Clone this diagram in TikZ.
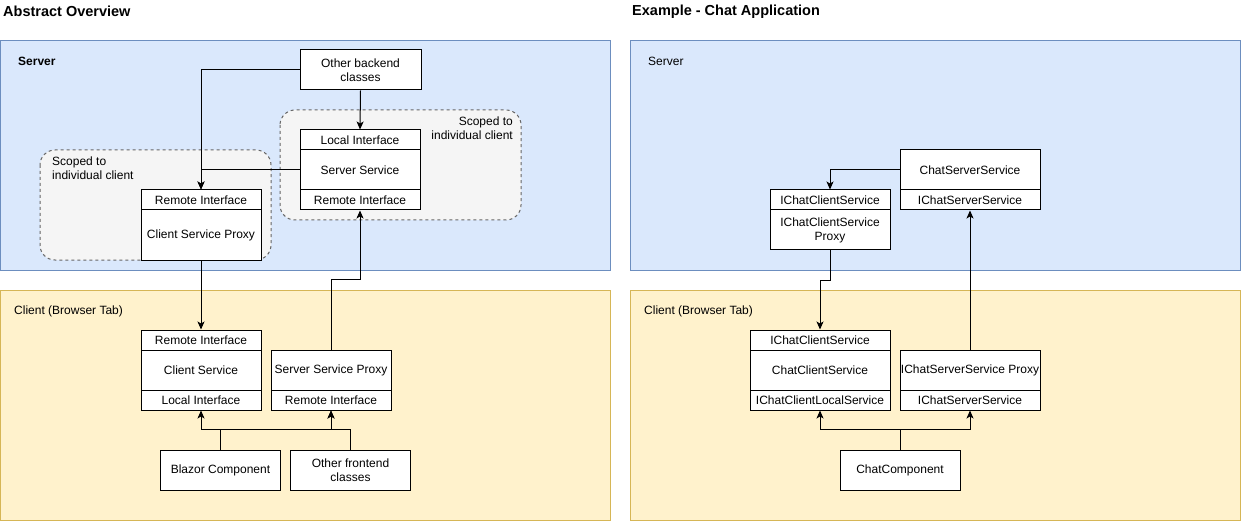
\documentclass[tikz,border=0pt]{standalone}
\usepackage{fontspec}
\setmainfont{Liberation Sans}
\usetikzlibrary{arrows.meta}
\definecolor{blueF}{HTML}{DAE8FC}
\definecolor{blueS}{HTML}{6C8EBF}
\definecolor{yelF}{HTML}{FFF2CC}
\definecolor{yelS}{HTML}{D6B656}
\definecolor{grpF}{HTML}{F5F5F5}
\definecolor{grpS}{HTML}{666666}
\tikzset{
  cell/.style={draw=black, fill=white, line width=1pt, inner sep=0pt, align=center,
    font=\fontsize{12}{14}\selectfont},
  lbl/.style={inner sep=0pt, anchor=west, font=\fontsize{12}{14}\selectfont},
  ttl/.style={inner sep=0pt, anchor=west, font=\fontsize{14.5}{16}\selectfont\bfseries},
  srv/.style={draw=blueS, fill=blueF, line width=1pt},
  cli/.style={draw=yelS, fill=yelF, line width=1pt},
  grp/.style={draw=grpS, fill=grpF, line width=1pt, dashed, dash pattern=on 3pt off 3pt, rounded corners=15pt},
  arr/.style={draw=black, line width=1pt, -{Stealth[length=8pt,width=7pt,inset=2pt]}},
}
\begin{document}
\begin{tikzpicture}[x=1pt,y=-1pt]
\useasboundingbox (0,0) rectangle (1241,521);
% titles
\node[ttl] (t1) at (3,11.5) {Abstract Overview};
\node[ttl] (t2) at (632,11.5) {Example - Chat Application};
% regions
\draw[srv] (0.5,40.5) rectangle (610,270);
\draw[cli] (0.5,290.5) rectangle (610,520);
\draw[srv] (630.5,40.5) rectangle (1240,270);
\draw[cli] (630.5,290.5) rectangle (1240,520);
\node[lbl, font=\fontsize{12}{14}\selectfont\bfseries] (sl1) at (18,61.5) {Server};
\node[lbl] (cl1) at (14,311.5) {Client (Browser Tab)};
\node[lbl] (sl2) at (648,61.5) {Server};
\node[lbl] (cl2) at (644,311.5) {Client (Browser Tab)};
% scoped groups
\draw[grp] (40,150) rectangle (271,260);
\draw[grp] (280,110) rectangle (521,220);
\node[lbl, align=left, anchor=north west] (g1) at (52,157) {Scoped to\\individual client};
\node[lbl, align=right, anchor=north east] (g2) at (513,117) {Scoped to\\individual client};
% ---- left: server
\node[cell, minimum width=121, minimum height=40] (obc) at (360.5,70) {Other backend\\classes};
\node[cell, minimum width=120, minimum height=20] (li) at (360,140) {Local Interface};
\node[cell, minimum width=120, minimum height=40] (ss) at (360,170) {Server Service};
\node[cell, minimum width=120, minimum height=20] (sri) at (360,200) {Remote Interface};
\node[cell, minimum width=120, minimum height=20] (rip) at (201,200) {Remote Interface};
\node[cell, minimum width=120, minimum height=50] (csp) at (201,235) {Client Service Proxy};
% ---- left: client
\node[cell, minimum width=120, minimum height=20] (cri) at (201,340) {Remote Interface};
\node[cell, minimum width=120, minimum height=40] (cs) at (201,370) {Client Service};
\node[cell, minimum width=120, minimum height=20] (cli) at (201,400) {Local Interface};
\node[cell, minimum width=120, minimum height=40] (ssp) at (331,370) {Server Service Proxy};
\node[cell, minimum width=120, minimum height=20] (pri) at (331,400) {Remote Interface};
\node[cell, minimum width=120, minimum height=40] (bc) at (220.5,470) {Blazor Component};
\node[cell, minimum width=120, minimum height=40] (ofc) at (350.5,470) {Other frontend\\classes};
% ---- right: server
\node[cell, minimum width=140, minimum height=40] (css) at (970,170) {ChatServerService};
\node[cell, minimum width=140, minimum height=20] (icss) at (970,200) {IChatServerService};
\node[cell, minimum width=120, minimum height=20] (icsa) at (830,200) {IChatClientService};
\node[cell, minimum width=120, minimum height=40] (icsp) at (830,230) {IChatClientService\\Proxy};
% ---- right: client
\node[cell, minimum width=140, minimum height=20] (icsb) at (820,340) {IChatClientService};
\node[cell, minimum width=140, minimum height=40] (ccs) at (820,370) {ChatClientService};
\node[cell, minimum width=140, minimum height=20] (iccl) at (820,400) {IChatClientLocalService};
\node[cell, minimum width=140, minimum height=40] (issp) at (970,370) {IChatServerService Proxy};
\node[cell, minimum width=140, minimum height=20] (iss) at (970,400) {IChatServerService};
\node[cell, minimum width=120, minimum height=40] (cc) at (900,470) {ChatComponent};
% ---- connectors left
\draw[arr] (obc.south) -- (li.north);
\draw[arr] (obc.west) -| (rip.north);
\draw[arr] (ss.west) -| (rip.north);
\draw[arr] (csp.south) -- (cri.north);
\draw[arr] (ssp.north) -- ++(0,-70) -| (sri.south);
\draw[arr] (bc.north) -- ++(0,-20) -| (cli.south);
\draw[arr] (bc.north) -- ++(0,-20) -| (pri.south);
\draw[arr] (ofc.north) -- ++(0,-20) -| (pri.south);
% ---- connectors right
\draw[arr] (css.west) -| (icsa.north);
\draw[arr] (icsp.south) -- ++(0,30) -| (icsb.north);
\draw[arr] (issp.north) -- (icss.south);
\draw[arr] (cc.north) -- ++(0,-20) -| (iccl.south);
\draw[arr] (cc.north) -- ++(0,-20) -| (iss.south);
\end{tikzpicture}
\end{document}
